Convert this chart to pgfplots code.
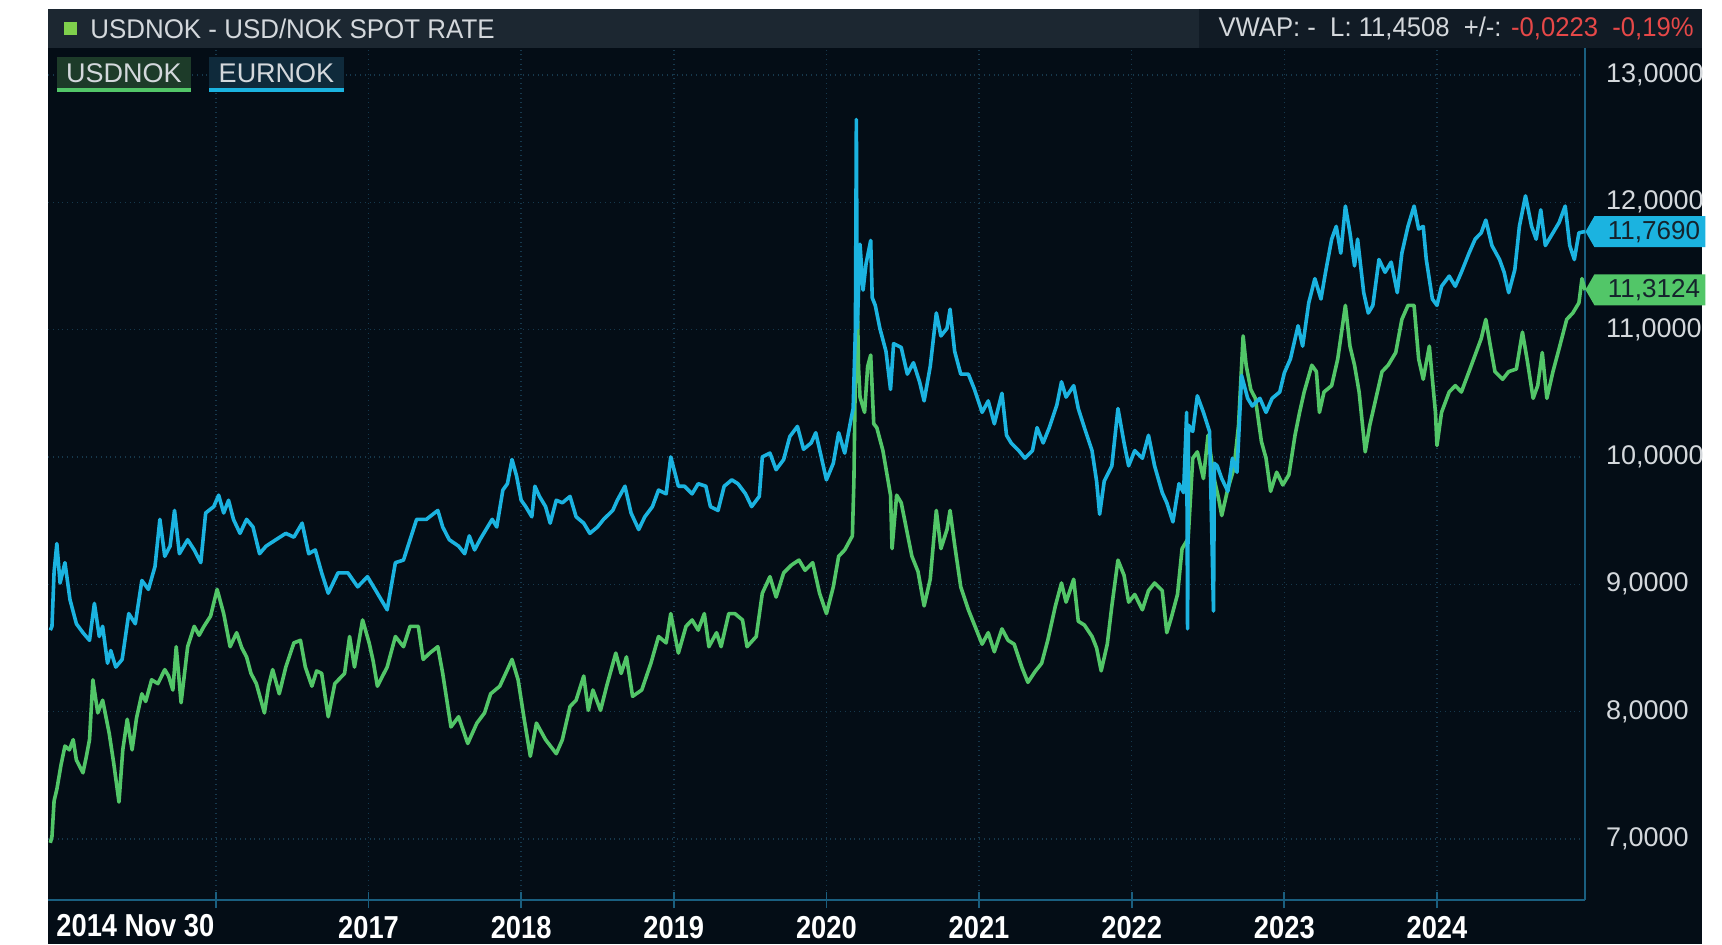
\documentclass[border=0pt]{standalone}
\usepackage{fontspec}
\setmainfont{Liberation Sans}
\usepackage{graphicx}
\usepackage{pgfplots}
\pgfplotsset{compat=1.18}
\usetikzlibrary{shapes.symbols}
\definecolor{bgdark}{HTML}{040D16}
\definecolor{hdr}{HTML}{1C2731}
\definecolor{hdrtwo}{HTML}{111B25}
\definecolor{hdrtext}{HTML}{D4D8DC}
\definecolor{gridc}{HTML}{16384C}
\definecolor{axisc}{HTML}{1A5F80}
\definecolor{usd}{HTML}{52C668}
\definecolor{eur}{HTML}{1BB3E0}
\definecolor{sqgreen}{HTML}{7FD04C}
\definecolor{lgbg}{HTML}{1D3B29}
\definecolor{lbbg}{HTML}{0F2A3B}
\definecolor{redv}{HTML}{E64848}
\definecolor{badgetext}{HTML}{15232C}
\newcommand\xl[1]{\scalebox{1.05}[1.22]{\bfseries #1}}
\newcommand\hl[1]{\scalebox{0.96}[1.0]{#1}}
\begin{document}
\begin{tikzpicture}
\useasboundingbox (0,0) rectangle (861pt,472pt);
\fill[white] (0,0) rectangle (861pt,472pt);
\fill[bgdark] (24pt,0) rectangle (851pt,467.5pt);
\fill[hdr] (24pt,448pt) rectangle (851pt,467.5pt);
\fill[hdrtwo] (599.5pt,448pt) rectangle (851pt,467.5pt);
\fill[sqgreen] (32pt,454.5pt) rectangle (38.5pt,461pt);
\node[anchor=west, text=hdrtext, font=\fontsize{13.5}{14}\selectfont, inner sep=0pt] at (45pt,457.6pt) {\hl{USDNOK - USD/NOK SPOT RATE}};
\node[anchor=east, text=hdrtext, font=\fontsize{13.5}{14}\selectfont, inner sep=0pt] at (847pt,457.6pt) {\scalebox{0.95}[1.0]{VWAP: - \ L: 11,4508 \ +/-: \textcolor{redv}{-0,0223 \ -0,19\%}}};
\begin{axis}[
  at={(24pt,22pt)}, anchor=south west,
  width=768.5pt, height=426pt, scale only axis,
  xmin=2014.90, xmax=2024.97,
  ymin=6.521, ymax=13.211,
  axis x line*=bottom, axis y line*=right,
  axis line style={draw=axisc, line width=1.2pt},
  xtick={2016,2017,2018,2019,2020,2021,2022,2023,2024},
  xticklabels={,\xl{2017},\xl{2018},\xl{2019},\xl{2020},\xl{2021},\xl{2022},\xl{2023},\xl{2024}},
  ytick={7,8,9,10,11,12,13},
  yticklabels={{7,0000},{8,0000},{9,0000},{10,0000},{11,0000},{12,0000},{13,0000}},
  grid=major,
  major grid style={draw=gridc, dotted, line width=0.7pt},
  xtick style={draw=axisc, line width=0.9pt},
  ytick style={draw=none},
  major tick length=8pt, tick align=center,
  xticklabel style={text=white, font=\fontsize{13}{13}\selectfont, anchor=north, yshift=-0.5pt},
  yticklabel style={text=hdrtext, font=\fontsize{13.5}{14}\selectfont, anchor=west, xshift=3pt},
  clip=false,
  line join=round,
]
\addplot[usd, line width=1.8pt] coordinates {
(2014.915,6.97) (2014.926,7.02) (2014.940,7.30) (2014.958,7.39) (2014.985,7.58) (2015.011,7.73) (2015.040,7.70)
(2015.065,7.78) (2015.086,7.62) (2015.129,7.52) (2015.150,7.64) (2015.172,7.78) (2015.194,8.25) (2015.226,7.99)
(2015.258,8.09) (2015.301,7.83) (2015.330,7.60) (2015.365,7.29) (2015.390,7.70) (2015.419,7.94) (2015.451,7.70)
(2015.480,7.95) (2015.515,8.14) (2015.540,8.08) (2015.579,8.25) (2015.620,8.22) (2015.665,8.33) (2015.690,8.28)
(2015.718,8.17) (2015.740,8.51) (2015.772,8.07) (2015.815,8.51) (2015.858,8.67) (2015.890,8.60) (2015.922,8.67)
(2015.965,8.75) (2016.008,8.96) (2016.051,8.77) (2016.093,8.51) (2016.136,8.62) (2016.170,8.50) (2016.201,8.43)
(2016.230,8.30) (2016.265,8.22) (2016.318,7.99) (2016.345,8.20) (2016.372,8.33) (2016.415,8.14) (2016.458,8.35)
(2016.511,8.54) (2016.554,8.56) (2016.586,8.35) (2016.629,8.20) (2016.660,8.32) (2016.693,8.30) (2016.736,7.96)
(2016.779,8.22) (2016.843,8.30) (2016.876,8.59) (2016.908,8.35) (2016.961,8.72) (2017.004,8.54) (2017.030,8.40)
(2017.058,8.20) (2017.122,8.35) (2017.176,8.59) (2017.229,8.51) (2017.272,8.67) (2017.326,8.67) (2017.358,8.41)
(2017.401,8.46) (2017.454,8.51) (2017.486,8.30) (2017.540,7.88) (2017.590,7.96) (2017.650,7.75) (2017.710,7.91)
(2017.760,7.99) (2017.800,8.14) (2017.860,8.20) (2017.910,8.33) (2017.940,8.41) (2017.980,8.25) (2018.020,7.94)
(2018.060,7.65) (2018.100,7.91) (2018.160,7.78) (2018.230,7.67) (2018.270,7.78) (2018.320,8.04) (2018.360,8.09)
(2018.410,8.28) (2018.440,8.01) (2018.470,8.17) (2018.520,8.01) (2018.560,8.20) (2018.620,8.46) (2018.655,8.30)
(2018.690,8.43) (2018.730,8.12) (2018.790,8.17) (2018.850,8.38) (2018.900,8.59) (2018.950,8.54) (2018.980,8.77)
(2019.030,8.46) (2019.080,8.67) (2019.120,8.72) (2019.160,8.64) (2019.200,8.77) (2019.230,8.51) (2019.280,8.62)
(2019.310,8.51) (2019.360,8.77) (2019.400,8.77) (2019.450,8.72) (2019.480,8.51) (2019.540,8.59) (2019.580,8.93)
(2019.630,9.06) (2019.670,8.90) (2019.720,9.09) (2019.770,9.15) (2019.820,9.19) (2019.860,9.11) (2019.910,9.17)
(2019.955,8.93) (2020.000,8.77) (2020.045,8.98) (2020.080,9.22) (2020.120,9.27) (2020.170,9.38) (2020.180,9.81)
(2020.190,10.71) (2020.200,11.40) (2020.210,10.71) (2020.220,10.47) (2020.250,10.35) (2020.270,10.71) (2020.290,10.80)
(2020.310,10.26) (2020.330,10.23) (2020.370,10.05) (2020.420,9.70) (2020.430,9.28) (2020.460,9.70) (2020.490,9.64)
(2020.520,9.46) (2020.560,9.22) (2020.600,9.10) (2020.640,8.83) (2020.680,9.04) (2020.720,9.58) (2020.750,9.28)
(2020.790,9.43) (2020.810,9.58) (2020.840,9.31) (2020.880,8.98) (2020.930,8.80) (2020.970,8.68) (2021.020,8.53)
(2021.060,8.62) (2021.100,8.47) (2021.150,8.65) (2021.190,8.56) (2021.230,8.53) (2021.280,8.35) (2021.320,8.23)
(2021.370,8.32) (2021.410,8.38) (2021.450,8.56) (2021.500,8.83) (2021.540,9.01) (2021.570,8.86) (2021.620,9.04)
(2021.650,8.71) (2021.690,8.68) (2021.740,8.59) (2021.770,8.50) (2021.800,8.32) (2021.840,8.53) (2021.870,8.83)
(2021.910,9.19) (2021.950,9.07) (2021.980,8.86) (2022.020,8.92) (2022.070,8.80) (2022.110,8.95) (2022.150,9.01)
(2022.200,8.95) (2022.230,8.62) (2022.260,8.74) (2022.300,8.92) (2022.330,9.28) (2022.370,9.36) (2022.400,9.99)
(2022.430,10.04) (2022.470,9.83) (2022.500,10.17) (2022.540,9.83) (2022.570,9.67) (2022.590,9.54) (2022.630,9.75)
(2022.670,9.91) (2022.700,10.25) (2022.730,10.95) (2022.750,10.72) (2022.780,10.53) (2022.810,10.46) (2022.850,10.12)
(2022.880,9.99) (2022.910,9.73) (2022.950,9.88) (2022.990,9.78) (2023.030,9.86) (2023.070,10.17) (2023.100,10.35)
(2023.130,10.51) (2023.180,10.72) (2023.210,10.67) (2023.230,10.35) (2023.260,10.51) (2023.310,10.56) (2023.350,10.77)
(2023.400,11.19) (2023.430,10.87) (2023.460,10.72) (2023.490,10.51) (2023.530,10.04) (2023.560,10.25) (2023.600,10.46)
(2023.640,10.67) (2023.680,10.72) (2023.730,10.82) (2023.770,11.08) (2023.810,11.19) (2023.850,11.19) (2023.880,10.77)
(2023.910,10.61) (2023.950,10.87) (2023.990,10.35) (2024.000,10.09) (2024.030,10.35) (2024.080,10.51) (2024.120,10.56)
(2024.160,10.51) (2024.210,10.67) (2024.250,10.80) (2024.290,10.93) (2024.320,11.08) (2024.350,10.87) (2024.380,10.67)
(2024.430,10.61) (2024.470,10.67) (2024.520,10.69) (2024.560,10.98) (2024.590,10.77) (2024.630,10.46) (2024.660,10.56)
(2024.690,10.82) (2024.720,10.46) (2024.760,10.67) (2024.800,10.85) (2024.850,11.08) (2024.890,11.13) (2024.930,11.21)
(2024.950,11.40) (2024.970,11.31)
};
\addplot[eur, line width=1.8pt] coordinates {
(2014.915,8.64) (2014.926,8.67) (2014.940,9.10) (2014.958,9.32) (2014.979,9.01) (2015.011,9.17) (2015.044,8.88)
(2015.086,8.69) (2015.129,8.62) (2015.172,8.56) (2015.204,8.85) (2015.236,8.59) (2015.258,8.67) (2015.290,8.38)
(2015.311,8.48) (2015.344,8.35) (2015.386,8.41) (2015.429,8.77) (2015.472,8.69) (2015.515,9.03) (2015.558,8.96)
(2015.601,9.14) (2015.633,9.51) (2015.665,9.22) (2015.700,9.30) (2015.729,9.58) (2015.761,9.24) (2015.815,9.35)
(2015.858,9.27) (2015.901,9.17) (2015.933,9.56) (2015.986,9.61) (2016.018,9.70) (2016.051,9.56) (2016.083,9.66)
(2016.115,9.51) (2016.158,9.40) (2016.201,9.51) (2016.243,9.45) (2016.286,9.24) (2016.329,9.30) (2016.393,9.35)
(2016.458,9.40) (2016.511,9.37) (2016.565,9.48) (2016.608,9.24) (2016.651,9.27) (2016.693,9.09) (2016.736,8.93)
(2016.800,9.09) (2016.865,9.09) (2016.929,8.98) (2016.993,9.06) (2017.058,8.93) (2017.122,8.80) (2017.176,9.17)
(2017.229,9.19) (2017.272,9.35) (2017.315,9.51) (2017.379,9.51) (2017.454,9.58) (2017.486,9.45) (2017.529,9.35)
(2017.590,9.30) (2017.630,9.24) (2017.660,9.38) (2017.695,9.27) (2017.730,9.35) (2017.770,9.43) (2017.810,9.51)
(2017.840,9.45) (2017.880,9.74) (2017.910,9.79) (2017.940,9.98) (2017.970,9.85) (2018.000,9.66) (2018.030,9.61)
(2018.070,9.53) (2018.090,9.77) (2018.120,9.69) (2018.160,9.61) (2018.190,9.48) (2018.230,9.66) (2018.270,9.64)
(2018.320,9.69) (2018.360,9.53) (2018.410,9.48) (2018.450,9.40) (2018.500,9.45) (2018.540,9.51) (2018.600,9.58)
(2018.630,9.66) (2018.680,9.77) (2018.720,9.56) (2018.770,9.43) (2018.810,9.53) (2018.860,9.61) (2018.900,9.74)
(2018.950,9.71) (2018.980,10.00) (2019.030,9.77) (2019.070,9.77) (2019.120,9.71) (2019.160,9.79) (2019.210,9.77)
(2019.240,9.61) (2019.290,9.58) (2019.330,9.77) (2019.380,9.82) (2019.420,9.79) (2019.470,9.71) (2019.510,9.61)
(2019.560,9.69) (2019.580,10.00) (2019.630,10.03) (2019.670,9.90) (2019.720,9.98) (2019.760,10.16) (2019.810,10.24)
(2019.850,10.06) (2019.900,10.11) (2019.930,10.19) (2019.970,9.98) (2020.000,9.82) (2020.045,9.95) (2020.080,10.19)
(2020.120,10.03) (2020.160,10.29) (2020.175,10.38) (2020.190,11.01) (2020.196,12.65) (2020.202,11.01) (2020.220,11.67)
(2020.240,11.31) (2020.260,11.52) (2020.290,11.70) (2020.300,11.25) (2020.320,11.19) (2020.350,11.01) (2020.390,10.83)
(2020.420,10.53) (2020.440,10.89) (2020.490,10.86) (2020.530,10.65) (2020.570,10.74) (2020.610,10.59) (2020.640,10.44)
(2020.680,10.71) (2020.720,11.13) (2020.750,10.95) (2020.790,11.01) (2020.810,11.16) (2020.840,10.83) (2020.880,10.65)
(2020.930,10.65) (2020.970,10.53) (2021.020,10.35) (2021.060,10.44) (2021.100,10.26) (2021.150,10.50) (2021.180,10.17)
(2021.210,10.11) (2021.260,10.05) (2021.300,9.99) (2021.350,10.05) (2021.380,10.23) (2021.420,10.11) (2021.460,10.23)
(2021.510,10.41) (2021.540,10.59) (2021.570,10.47) (2021.620,10.56) (2021.650,10.38) (2021.690,10.23) (2021.740,10.05)
(2021.770,9.81) (2021.790,9.55) (2021.820,9.81) (2021.870,9.93) (2021.910,10.38) (2021.950,10.11) (2021.980,9.93)
(2022.020,10.05) (2022.070,9.99) (2022.110,10.17) (2022.150,9.93) (2022.200,9.72) (2022.230,9.64) (2022.270,9.49)
(2022.310,9.79) (2022.340,9.72) (2022.360,10.35) (2022.366,8.65) (2022.372,10.25) (2022.400,10.20) (2022.430,10.48)
(2022.470,10.35) (2022.510,10.20) (2022.536,8.79) (2022.542,9.95) (2022.560,9.93) (2022.590,9.83) (2022.630,9.73)
(2022.660,9.99) (2022.690,9.88) (2022.720,10.64) (2022.760,10.46) (2022.790,10.40) (2022.840,10.46) (2022.880,10.35)
(2022.920,10.46) (2022.970,10.51) (2023.000,10.66) (2023.040,10.77) (2023.090,11.03) (2023.120,10.87) (2023.160,11.21)
(2023.200,11.40) (2023.240,11.24) (2023.270,11.45) (2023.310,11.71) (2023.340,11.81) (2023.370,11.60) (2023.400,11.97)
(2023.430,11.76) (2023.460,11.50) (2023.480,11.71) (2023.520,11.29) (2023.550,11.13) (2023.580,11.19) (2023.620,11.55)
(2023.660,11.45) (2023.700,11.53) (2023.740,11.29) (2023.770,11.60) (2023.810,11.81) (2023.850,11.97) (2023.880,11.79)
(2023.910,11.81) (2023.930,11.55) (2023.970,11.24) (2024.000,11.19) (2024.030,11.34) (2024.080,11.42) (2024.120,11.34)
(2024.160,11.45) (2024.210,11.60) (2024.250,11.71) (2024.290,11.76) (2024.320,11.86) (2024.360,11.66) (2024.410,11.55)
(2024.440,11.45) (2024.470,11.29) (2024.510,11.47) (2024.540,11.81) (2024.580,12.05) (2024.620,11.81) (2024.650,11.71)
(2024.680,11.94) (2024.710,11.66) (2024.760,11.76) (2024.800,11.84) (2024.840,11.97) (2024.870,11.66) (2024.900,11.55)
(2024.930,11.76) (2024.970,11.77)
};
\node[signal, signal to=west, signal pointer angle=120, fill=eur, text=badgetext, anchor=west,
  minimum width=60pt, minimum height=15.5pt, inner sep=1pt, font=\fontsize{13}{13}\selectfont]
  at (axis cs:2024.97,11.769) {\hspace{4pt}11,7690};
\node[signal, signal to=west, signal pointer angle=120, fill=usd, text=badgetext, anchor=west,
  minimum width=60pt, minimum height=15.5pt, inner sep=1pt, font=\fontsize{13}{13}\selectfont]
  at (axis cs:2024.97,11.3124) {\hspace{4pt}11,3124};
\end{axis}
\node[anchor=west, text=white, font=\fontsize{13}{13}\selectfont, inner sep=0pt] at (28pt,9.3pt) {\xl{2014 Nov 30}};
\fill[lgbg] (28.5pt,426pt) rectangle (95.5pt,443.5pt);
\fill[usd] (28.5pt,426pt) rectangle (95.5pt,428pt);
\node[text=hdrtext, font=\fontsize{13.5}{14}\selectfont, inner sep=0pt] at (62pt,435.5pt) {USDNOK};
\fill[lbbg] (104.5pt,426pt) rectangle (172pt,443.5pt);
\fill[eur] (104.5pt,426pt) rectangle (172pt,428pt);
\node[text=hdrtext, font=\fontsize{13.5}{14}\selectfont, inner sep=0pt] at (138.25pt,435.5pt) {EURNOK};
\end{tikzpicture}
\end{document}
